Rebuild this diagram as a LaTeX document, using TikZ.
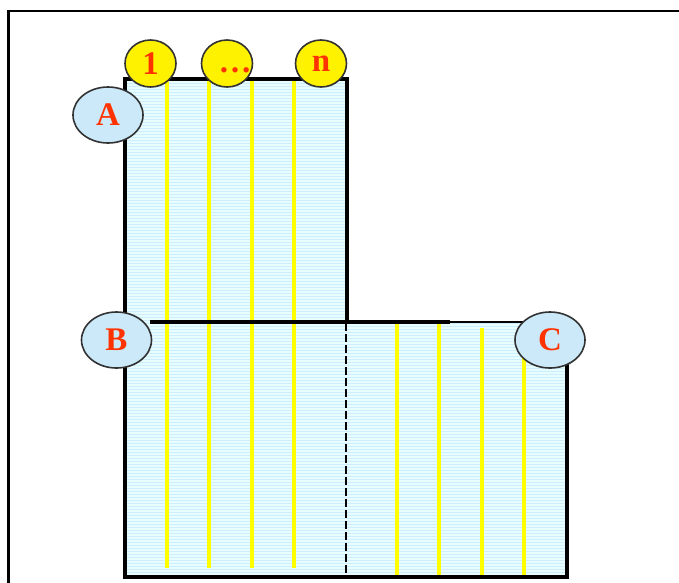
\documentclass[tikz,border=0pt]{standalone}
\usepackage{fontspec}
\setmainfont{Liberation Serif}
\usetikzlibrary{shapes.geometric}
\definecolor{paneFill}{RGB}{232,253,255}
\definecolor{paneStripe}{RGB}{205,238,252}
\definecolor{tapeYellow}{RGB}{255,255,0}
\definecolor{tagBlue}{RGB}{204,233,250}
\definecolor{tagRed}{RGB}{255,51,0}
\definecolor{rimGray}{RGB}{50,50,50}
\tikzset{
  tag/.style={ellipse, draw=rimGray, line width=1.6pt, fill=tagBlue,
    minimum width=70pt, minimum height=56pt, inner sep=0pt,
    text=tagRed, font=\fontsize{33}{33}\selectfont\bfseries},
  bubble/.style={ellipse, draw=rimGray, line width=1.6pt, fill=yellow,
    minimum width=51pt, minimum height=47pt, inner sep=0pt,
    text=tagRed, font=\fontsize{33}{33}\selectfont\bfseries},
  rim/.style={line width=4pt, black},
  tape/.style={line width=3.4pt, tapeYellow}
}
\begin{document}
\begin{tikzpicture}[x=1pt,y=-1pt]
\useasboundingbox (0,0) rectangle (679,582);
\begin{scope}
\clip (0,0) rectangle (679,582);
% outer frame, running off the page at the right and bottom
\draw[line width=2.5pt] (8.5,700) -- (8.5,11) -- (700,11);

% L-shaped floor area with fine horizontal stripes
\fill[paneFill] (125,79) -- (347,79) -- (347,322) -- (567,322) -- (567,577) -- (125,577) -- cycle;
\begin{scope}
\clip (125,79) -- (347,79) -- (347,322) -- (567,322) -- (567,577) -- (125,577) -- cycle;
\foreach \y in {80,83,...,578} \draw[paneStripe, line width=0.8pt] (120,\y) -- (570,\y);
\end{scope}

% yellow strips
\foreach \x in {167,209,252,294} \draw[tape] (\x,79) -- (\x,568);
\draw[tape] (397,322) -- (397,577);
\draw[tape] (439,322) -- (439,577);
\draw[tape] (482,328) -- (482,577);
\draw[tape] (524,340) -- (524,577);

% outline
\draw[rim] (125,79) -- (347,79) -- (347,322);
\draw[rim] (125,77) -- (125,577) -- (567,577) -- (567,350);
\draw[rim] (150,322) -- (450,322);
\draw[line width=2.6pt] (450,322) -- (530,322);
\draw[line width=2.4pt, dash pattern=on 8pt off 3pt] (346,323) -- (346,577);

% labels
\node[tag] (a) at (108,115) {A};
\node[tag] (b) at (116.5,340) {B};
\node[tag] (c) at (550,340) {C};
\node[bubble] (n1) at (150.5,63.5) {1};
\node[bubble] (ndots) at (227,63.5) {\raisebox{-9pt}[0pt][0pt]{\makebox[0pt]{\hspace{16pt}\dots}}};
\node[bubble] (nn) at (321,63.5) {n};
\end{scope}
\end{tikzpicture}
\end{document}
